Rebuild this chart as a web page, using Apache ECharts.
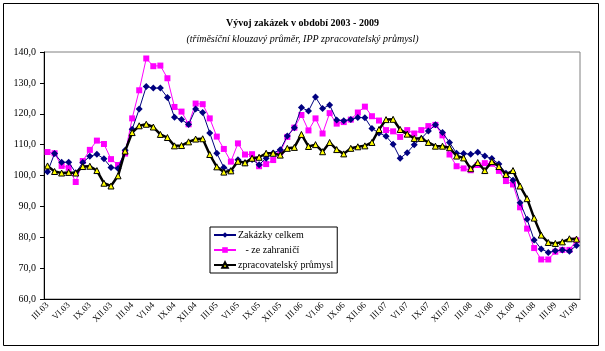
<!DOCTYPE html>
<html>
<head>
    <meta charset="utf-8">
    <title>Vývoj zakázek</title>
    <script src="https://cdn.jsdelivr.net/npm/echarts@6/dist/echarts.min.js"></script>
    <style>
        body { margin: 0; background: #fff; }
        #main { width: 605px; height: 351px; }
    </style>
</head>
<body>
<div id="main"></div>
<script type="text/javascript">
// měsíce III.03 - VI.09
var roman = ['I', 'II', 'III', 'IV', 'V', 'VI', 'VII', 'VIII', 'IX', 'X', 'XI', 'XII'];
var months = [];
for (var k = 0; k < 76; k++) {
    var m = (2 + k) % 12;
    var y = 3 + Math.floor((2 + k) / 12);
    months.push(roman[m] + '.0' + y);
}

// Zakázky celkem
var celkem = [101.2, 107.1, 104.3, 104.3, 100.9, 104.2, 106.2, 106.9, 105.4, 102.6, 102.3, 108.2,
    115.0, 121.5, 128.8, 128.3, 128.3, 125.3, 118.9, 118.1, 116.5, 121.5, 120.4, 113.8,
    107.2, 102.6, 101.5, 105.1, 104.1, 105.2, 103.5, 105.6, 107.3, 108.3, 112.8, 115.5,
    122.0, 120.9, 125.4, 121.7, 122.8, 118.0, 117.7, 118.1, 118.8, 118.7, 115.2, 113.8,
    112.7, 110.1, 105.6, 107.4, 110.0, 112.0, 114.4, 116.4, 113.9, 110.7, 107.2, 107.1,
    106.9, 107.5, 106.3, 105.5, 103.7, 100.7, 98.5, 91.2, 85.8, 79.1, 76.2, 75.1,
    75.6, 75.9, 75.5, 77.3];

// - ze zahraničí
var zahranici = [107.6, 107.2, 103.1, 102.5, 97.9, 104.7, 108.3, 111.3, 110.2, 105.3, 103.4, 107.1,
    118.5, 127.6, 137.9, 135.4, 135.6, 131.5, 122.2, 120.7, 116.6, 123.3, 123.1, 118.5,
    112.6, 108.6, 104.5, 110.4, 106.8, 106.9, 103.0, 103.7, 105.0, 107.6, 112.5, 115.5,
    119.6, 114.6, 118.5, 113.6, 120.2, 116.8, 117.3, 118.1, 120.4, 122.3, 119.2, 117.8,
    114.7, 114.3, 112.5, 114.7, 113.6, 114.7, 116.0, 116.4, 113.0, 106.8, 103.0, 102.3,
    101.7, 103.4, 104.0, 103.8, 101.5, 98.2, 97.1, 89.7, 82.8, 76.5, 72.8, 72.8,
    75.3, 75.9, 75.9, 79.0];

// zpracovatelský průmysl
var prumysl = [103.1, 101.3, 100.8, 101.0, 100.8, 102.9, 103.0, 101.6, 97.5, 96.6, 99.9, 107.9,
    113.9, 116.1, 116.6, 115.7, 113.3, 112.3, 109.6, 109.7, 110.9, 111.8, 111.9, 106.8,
    102.8, 101.1, 101.5, 104.6, 104.1, 105.6, 105.9, 107.2, 107.2, 106.6, 108.8, 109.1,
    113.3, 109.4, 110.0, 107.7, 110.7, 108.4, 107.0, 108.8, 109.3, 109.6, 110.7, 114.9,
    118.1, 118.2, 114.9, 113.4, 112.0, 112.0, 110.7, 109.5, 109.5, 109.0, 106.3, 105.7,
    102.2, 104.2, 101.6, 104.5, 102.9, 100.3, 101.6, 96.6, 92.5, 86.2, 80.7, 78.3,
    78.0, 78.5, 79.5, 79.4];

var pismo = '"Liberation Serif", "DejaVu Serif", serif';

var myChart = echarts.init(document.getElementById('main'));

var option = {
    animation: false,
    textStyle: { fontFamily: pismo, color: '#000' },
    title: {
        text: 'Vývoj zakázek v období 2003 - 2009',
        subtext: '(tříměsíční klouzavý průměr, IPP zpracovatelský průmysl)',
        left: 'center',
        top: 13,
        itemGap: 6,
        textStyle: { fontFamily: pismo, fontSize: 10, fontWeight: 'bold', color: '#000' },
        subtextStyle: { fontFamily: pismo, fontSize: 10, fontStyle: 'italic', color: '#000' }
    },
    graphic: [{
        type: 'rect',
        shape: { x: 3.5, y: 3.5, width: 595, height: 342 },
        style: { fill: 'none', stroke: '#000', lineWidth: 1 },
        silent: true
    }],
    legend: {
        orient: 'vertical',
        left: 210,
        top: 227,
        padding: [3, 4, 3, 3],
        itemGap: 5,
        itemWidth: 22,
        itemHeight: 7,
        borderColor: '#000',
        borderWidth: 1,
        backgroundColor: '#fff',
        textStyle: { fontFamily: pismo, fontSize: 10, color: '#000', padding: [0, 0, 0, -3] },
        data: ['Zakázky celkem', '   - ze zahraničí', 'zpracovatelský průmysl']
    },
    grid: {
        left: 44,
        right: 25,
        top: 52,
        bottom: 52,
        show: true,
        borderColor: '#808080',
        borderWidth: 1
    },
    xAxis: {
        type: 'category',
        data: months,
        boundaryGap: true,
        axisLine: { lineStyle: { color: '#000', width: 1 } },
        axisTick: { interval: 2, length: 4, lineStyle: { color: '#000' } },
        axisLabel: {
            interval: 2,
            rotate: 45,
            margin: 5,
            fontSize: 9,
            fontFamily: pismo,
            color: '#000'
        },
        splitLine: { show: false }
    },
    yAxis: {
        type: 'value',
        min: 60,
        max: 140,
        interval: 10,
        axisLine: { show: true, lineStyle: { color: '#000', width: 1 } },
        axisTick: { show: true, length: 4, lineStyle: { color: '#000' } },
        axisLabel: {
            margin: 8,
            fontSize: 10,
            fontFamily: pismo,
            color: '#000',
            formatter: function (v) { return v.toFixed(1).replace('.', ','); }
        },
        splitLine: { show: false }
    },
    series: [
        {
            name: 'Zakázky celkem',
            type: 'line',
            data: celkem,
            symbol: 'diamond',
            symbolSize: 7,
            showAllSymbol: true,
            lineStyle: { color: '#000080', width: 1 },
            itemStyle: { color: '#000080' },
            z: 3
        },
        {
            name: '   - ze zahraničí',
            type: 'line',
            data: zahranici,
            symbol: 'rect',
            symbolSize: 6,
            showAllSymbol: true,
            lineStyle: { color: '#ff00ff', width: 1 },
            itemStyle: { color: '#ff00ff' },
            z: 2
        },
        {
            name: 'zpracovatelský průmysl',
            type: 'line',
            data: prumysl,
            symbol: 'triangle',
            symbolSize: 6,
            showAllSymbol: true,
            lineStyle: { color: '#000', width: 2.5 },
            itemStyle: { color: '#ffff00', borderColor: '#000', borderWidth: 1 },
            z: 4
        }
    ]
};

myChart.setOption(option);
</script>
</body>
</html>
